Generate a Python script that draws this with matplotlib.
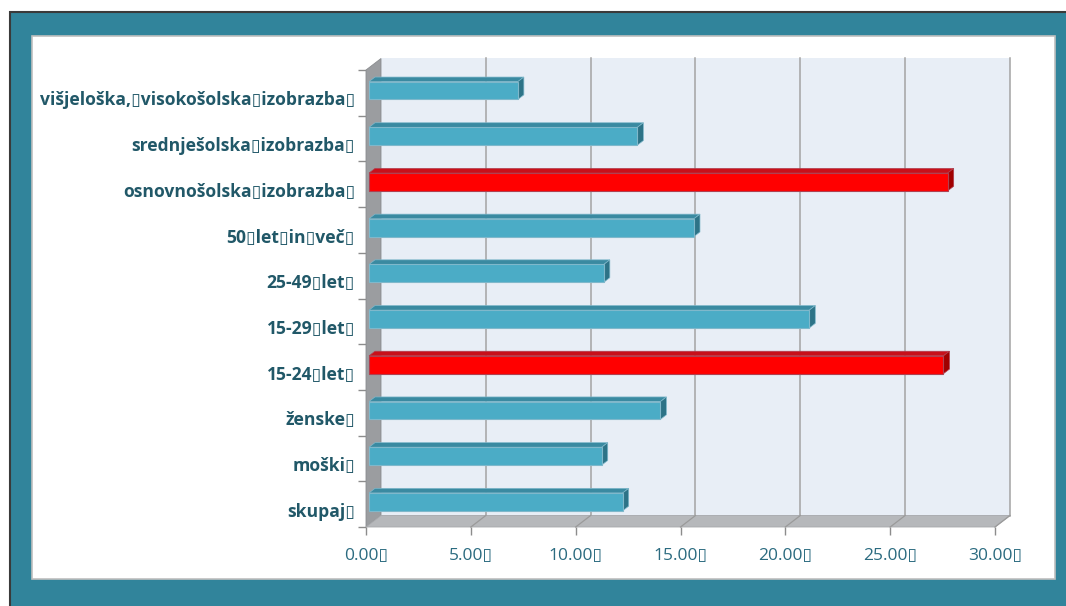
import numpy as np
import matplotlib.pyplot as plt
from matplotlib.patches import Polygon, Rectangle
from matplotlib.transforms import ScaledTranslation

# stopnja po skupinah (od spodaj navzgor)
BOX = "\u25af"
categories = [
    "skupaj" + BOX,
    "moški" + BOX,
    "ženske" + BOX,
    "15-24" + BOX + "let" + BOX,
    "15-29" + BOX + "let" + BOX,
    "25-49" + BOX + "let" + BOX,
    "50" + BOX + "let" + BOX + "in" + BOX + "več" + BOX,
    "osnovnošolska" + BOX + "izobrazba" + BOX,
    "srednješolska" + BOX + "izobrazba" + BOX,
    "višjeloška," + BOX + "visokošolska" + BOX + "izobrazba" + BOX,
]
values = [12.1, 11.1, 13.9, 27.4, 21.0, 11.2, 15.5, 27.6, 12.8, 7.1]
highlight = [False, False, False, True, False, False, False, True, False, False]
xticks = [0, 5, 10, 15, 20, 25, 30]
xticklabels = [f"{t:.2f}" + BOX for t in xticks]

FONT = ["Open Sans", "DejaVu Sans"]
FRAME = "#31849B"
LABEL_COLOR = "#215868"
TICK_COLOR = "#2B6B80"

fig = plt.figure(figsize=(10.66, 6.06), dpi=100)
fig.patch.set_facecolor("white")

# teal frame and white inner panel, behind the axes
fig.patches.append(Rectangle((10 / 1066, -0.01), 1.02, (606 - 12) / 606 + 0.01,
                             transform=fig.transFigure, facecolor=FRAME,
                             edgecolor="#3A3A3A", linewidth=1.5, zorder=-2))
fig.patches.append(Rectangle((32 / 1066, (606 - 579) / 606), (1055 - 32) / 1066,
                             (579 - 36) / 606, transform=fig.transFigure,
                             facecolor="white", edgecolor="#BFBFBF",
                             linewidth=1.2, zorder=-1))

ax = fig.add_axes([366 / 1066, (606 - 527) / 606, (995 - 366) / 1066, (527 - 70) / 606])
ax.set_facecolor("none")
ax.set_zorder(1)
n = len(categories)
xmax = 30
ax.set_xlim(0, xmax)
ax.set_ylim(-0.5, n - 0.5)

# depth offset of the back wall, in data units
dx = 15 / 20.97
dy = 11.5 / 45.7
y0, y1 = -0.5, n - 0.5

wall = Polygon([(dx, y0 + dy), (xmax + dx, y0 + dy), (xmax + dx, y1 + dy), (dx, y1 + dy)],
               closed=True, facecolor="#E8EEF6", edgecolor="none", clip_on=False, zorder=1)
side = Polygon([(0, y0), (dx, y0 + dy), (dx, y1 + dy), (0, y1)],
               closed=True, facecolor="#9B9DA0", edgecolor="#8A8C8F", linewidth=0.6,
               clip_on=False, zorder=2)
floor = Polygon([(0, y0), (xmax, y0), (xmax + dx, y0 + dy), (dx, y0 + dy)],
                closed=True, facecolor="#B6B8BB", edgecolor="#A6A8AB", linewidth=0.6,
                clip_on=False, zorder=2)
for p in (wall, side, floor):
    ax.add_patch(p)

for t in xticks[1:]:
    ax.plot([t + dx, t + dx], [y0 + dy, y1 + dy], color="#A3A3A3", lw=1.1,
            clip_on=False, zorder=1.5)
    ax.plot([t, t + dx], [y0, y0 + dy], color="#9A9A9A", lw=0.9,
            clip_on=False, zorder=2.5)

# bars: front face, top face, right side face
f0, f1 = 0.2, 0.6
h = 0.39
for i, (v, hl) in enumerate(zip(values, highlight)):
    front_c, top_c, side_c, edge_c = (
        ("#FF0000", "#C8101A", "#A00000", "#B04050") if hl
        else ("#4BACC6", "#3A8AA1", "#2D7387", "#7FB8CB"))
    xa, xb = f0 * dx, v + f0 * dx
    ya, yb = i - h / 2 + f0 * dy, i + h / 2 + f0 * dy
    ddx, ddy = (f1 - f0) * dx, (f1 - f0) * dy
    ax.add_patch(Polygon([(xa, yb), (xb, yb), (xb + ddx, yb + ddy), (xa + ddx, yb + ddy)],
                         closed=True, facecolor=top_c, edgecolor=edge_c, lw=0.5,
                         clip_on=False, zorder=3))
    ax.add_patch(Polygon([(xb, ya), (xb, yb), (xb + ddx, yb + ddy), (xb + ddx, ya + ddy)],
                         closed=True, facecolor=side_c, edgecolor=edge_c, lw=0.5,
                         clip_on=False, zorder=3))
    ax.add_patch(Rectangle((xa, ya), xb - xa, yb - ya, facecolor=front_c,
                           edgecolor=edge_c, lw=0.8, clip_on=False, zorder=4))

for s in ax.spines.values():
    s.set_visible(False)

ax.set_xticks(xticks)
ax.set_xticklabels(xticklabels, family=FONT, fontsize=12.5, color=TICK_COLOR)
ax.tick_params(axis="x", direction="out", length=6, width=1, color="#8C8C8C", pad=9)

ax.set_yticks(np.arange(n + 1) - 0.5)
ax.set_yticklabels([])
ax.tick_params(axis="y", which="major", direction="out", length=6, width=1, color="#8C8C8C")
ax.set_yticks(np.arange(n), minor=True)
ax.set_yticklabels(categories, minor=True, family=FONT, fontsize=12.6,
                   fontweight="bold", color=LABEL_COLOR)
ax.tick_params(axis="y", which="minor", length=0, pad=8)
shift = ScaledTranslation(0, -4 / 72, fig.dpi_scale_trans)
for lab in ax.get_yticklabels(minor=True):
    lab.set_transform(lab.get_transform() + shift)

fig.savefig("out.png", dpi=100)
